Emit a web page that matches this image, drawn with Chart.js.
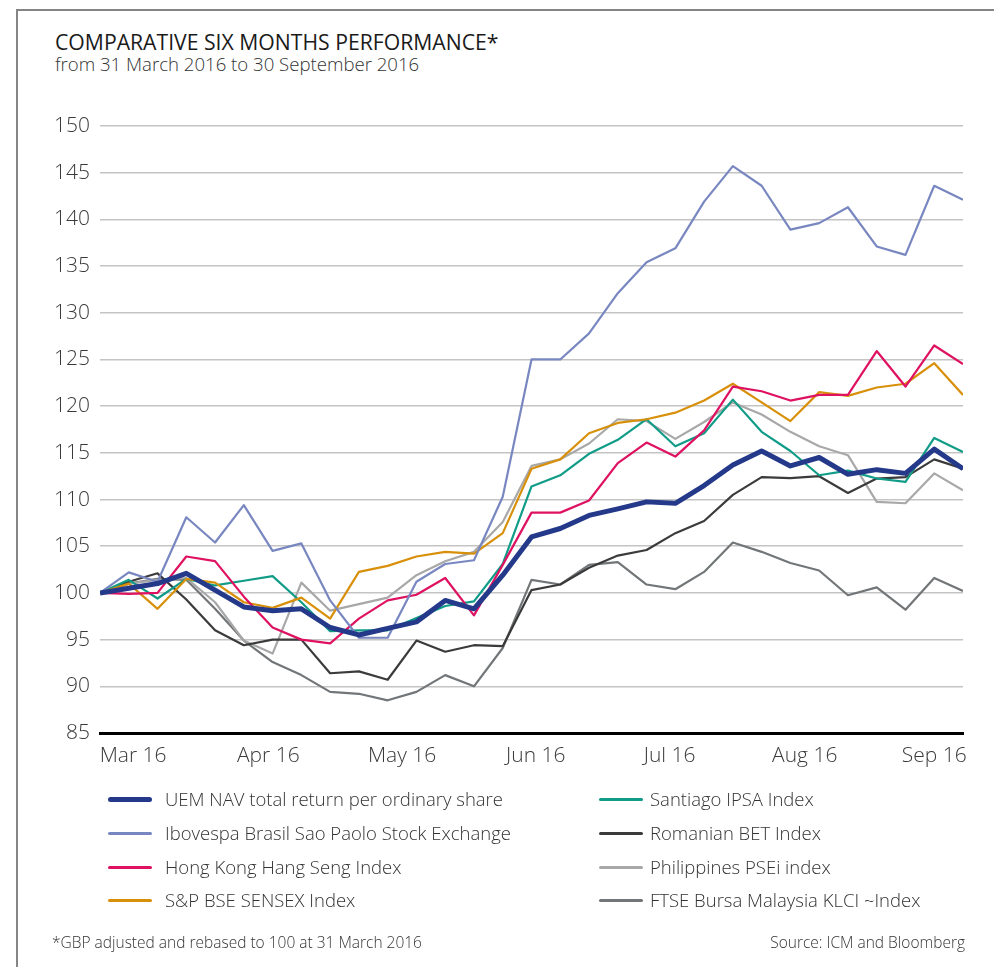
<!DOCTYPE html>
<html>
<head>
<meta charset="utf-8">
<script src="https://cdn.jsdelivr.net/npm/chart.js@4.4.1/dist/chart.umd.min.js"></script>
<style>
  html, body { margin: 0; padding: 0; background: #fff; }
  body { width: 994px; height: 967px; position: relative; overflow: hidden; font-family: "Open Sans", sans-serif; color: #222; }
  #frameTop { position: absolute; left: 17px; top: 9px; width: 977px; height: 2px; background: #858585; }
  #frameLeft { position: absolute; left: 16px; top: 9px; width: 2px; height: 958px; background: #858585; }
  #title { position: absolute; left: 55px; top: 27px; font-size: 21.2px; font-weight: 400; color: #1a1a1a; white-space: nowrap; }
  #subtitle { position: absolute; left: 55px; top: 51px; font-size: 18.6px; font-weight: 300; color: #333; white-space: nowrap; }
  #chartBox { position: absolute; left: 20px; top: 90px; }
  #legend { position: absolute; left: 0; top: 0; width: 994px; height: 967px; pointer-events: none; }
  .item { position: absolute; white-space: nowrap; font-size: 18.5px; font-weight: 300; color: #333; }
  .swatch { position: absolute; left: 0; width: 44px; border-radius: 3px; }
  .note { position: absolute; top: 931px; font-size: 15.5px; font-weight: 300; color: #333; white-space: nowrap; }
</style>
</head>
<body>
<div id="frameTop"></div>
<div id="frameLeft"></div>
<div id="title">COMPARATIVE SIX MONTHS PERFORMANCE*</div>
<div id="subtitle">from 31 March 2016 to 30 September 2016</div>
<div id="chartBox"><canvas id="perfChart" width="974" height="688"></canvas></div>
<div id="legend"></div>
<div class="note" style="left:52px;">*GBP adjusted and rebased to 100 at 31 March 2016</div>
<div class="note" style="right:29px;">Source: ICM and Bloomberg</div>

<script>
// weekly observations, 31 March 2016 .. 30 September 2016 (rebased to 100)
var weeks = [];
for (var w = 0; w <= 30; w++) weeks[w] = w;

var monthLabels = ["Mar 16", "Apr 16", "May 16", "Jun 16", "Jul 16", "Aug 16", "Sep 16"];
var monthTickAt = [1.15, 5.85, 10.5, 15.15, 19.8, 24.5, 29.0];
var yTicks = [85, 90, 95, 100, 105, 110, 115, 120, 125, 130, 135, 140, 145, 150];

var uemNav   = [100, 100.5, 101.0, 102.1, 100.3, 98.5, 98.1, 98.3, 96.3, 95.5, 96.2, 96.9, 99.2, 98.3, 101.9, 106.0, 106.9, 108.3, 109.0, 109.75, 109.6, 111.5, 113.7, 115.2, 113.6, 114.5, 112.7, 113.2, 112.8, 115.4, 113.3];
var ibovespa = [100, 102.2, 101.2, 108.1, 105.4, 109.4, 104.5, 105.3, 99.2, 95.2, 95.2, 101.2, 103.1, 103.5, 110.3, 125.0, 125.0, 127.8, 132.1, 135.4, 136.9, 141.9, 145.7, 143.6, 138.9, 139.6, 141.3, 137.1, 136.2, 143.6, 142.1];
var hangSeng = [100, 99.9, 100.0, 103.9, 103.4, 99.6, 96.3, 95.0, 94.6, 97.25, 99.2, 99.8, 101.6, 97.6, 103.0, 108.6, 108.6, 109.9, 113.9, 116.1, 114.6, 117.4, 122.1, 121.6, 120.6, 121.2, 121.2, 125.9, 122.1, 126.5, 124.5];
var sensex   = [100, 101.0, 98.3, 101.5, 101.1, 99.0, 98.4, 99.5, 97.25, 102.25, 102.9, 103.9, 104.4, 104.2, 106.4, 113.3, 114.3, 117.1, 118.2, 118.6, 119.3, 120.6, 122.4, 120.4, 118.4, 121.5, 121.1, 122.0, 122.4, 124.6, 121.2];
var ipsa     = [100, 101.4, 99.4, 101.5, 100.8, 101.3, 101.8, 99.0, 95.9, 96.0, 96.0, 97.3, 98.6, 99.1, 103.1, 111.4, 112.6, 114.9, 116.4, 118.6, 115.7, 117.1, 120.7, 117.25, 115.2, 112.6, 113.1, 112.25, 111.9, 116.6, 115.1];
var bet      = [100, 101.2, 102.1, 99.3, 96.0, 94.4, 95.0, 95.0, 91.4, 91.6, 90.7, 94.9, 93.7, 94.4, 94.3, 100.3, 100.9, 102.7, 104.0, 104.6, 106.4, 107.7, 110.5, 112.4, 112.3, 112.5, 110.7, 112.25, 112.4, 114.3, 113.3];
var psei     = [100, 101.0, 101.4, 101.6, 99.0, 94.9, 93.5, 101.1, 98.1, 98.8, 99.5, 101.9, 103.4, 104.4, 107.6, 113.6, 114.3, 116.0, 118.6, 118.4, 116.5, 118.3, 120.4, 119.1, 117.25, 115.7, 114.75, 109.75, 109.6, 112.8, 111.0];
var klci     = [100, 101.0, 101.5, 101.4, 98.3, 94.9, 92.6, 91.2, 89.4, 89.2, 88.5, 89.4, 91.2, 90.0, 94.1, 101.4, 100.9, 103.0, 103.3, 100.9, 100.4, 102.25, 105.4, 104.4, 103.2, 102.4, 99.75, 100.6, 98.2, 101.6, 100.2];

var series = [
  { label: "UEM NAV total return per ordinary share", data: uemNav, color: "#24398a", width: 5 },
  { label: "Ibovespa Brasil Sao Paolo Stock Exchange", data: ibovespa, color: "#7987c1", width: 2.2 },
  { label: "Hong Kong Hang Seng Index", data: hangSeng, color: "#df1161", width: 2.2 },
  { label: "S&P BSE SENSEX Index", data: sensex, color: "#d8900b", width: 2.2 },
  { label: "Santiago IPSA Index", data: ipsa, color: "#119c88", width: 2.2 },
  { label: "Romanian BET Index", data: bet, color: "#3b3b3b", width: 2.2 },
  { label: "Philippines PSEi index", data: psei, color: "#a8a8a8", width: 2.2 },
  { label: "FTSE Bursa Malaysia KLCI ~Index", data: klci, color: "#727678", width: 2.2 }
];

var datasets = series.map(function (s) {
  return {
    label: s.label,
    data: s.data,
    borderColor: s.color,
    backgroundColor: s.color,
    borderWidth: s.width,
    pointRadius: 0,
    lineTension: 0,
    borderJoinStyle: "round",
    fill: false
  };
});

var canvas = document.getElementById("perfChart");
var perfChart = new Chart(canvas, {
  type: "line",
  data: { labels: weeks, datasets: datasets },
  options: {
    responsive: false,
    animation: false,
    layout: { padding: { left: 0, right: 31, top: 36, bottom: 0 } },
    plugins: { legend: { display: false }, tooltip: { enabled: false } },
    scales: {
      x: {
        type: "linear",
        min: 0,
        max: 30,
        afterBuildTicks: function (scale) {
          scale.ticks = monthTickAt.map(function (v) { return { value: v }; });
        },
        afterFit: function (scale) { scale.height = 45; scale.paddingLeft = 0; scale.paddingRight = 0; },
        grid: { display: false, drawTicks: false },
        border: { display: true, color: "#000", width: 3 },
        ticks: {
          autoSkip: false,
          maxRotation: 0,
          padding: 10,
          color: "#3a3a3a",
          font: { family: "Open Sans", size: 21, weight: 300 },
          callback: function (v, i) { return monthLabels[i]; }
        }
      },
      y: {
        min: 85,
        max: 150,
        afterBuildTicks: function (scale) {
          scale.ticks = yTicks.map(function (v) { return { value: v }; });
        },
        afterFit: function (scale) { scale.width = 80; scale.paddingTop = 0; scale.paddingBottom = 0; },
        grid: { color: "#c4c4c4", lineWidth: 1.5, drawTicks: false },
        border: { display: false },
        ticks: {
          padding: 10,
          color: "#3a3a3a",
          font: { family: "Open Sans", size: 21, weight: 300 }
        }
      }
    }
  }
});

// two-column legend, built from the datasets
var legend = document.getElementById("legend");
var colX = [108, 599];
var rowY = [786, 820, 854, 887];
series.forEach(function (s, i) {
  var col = i < 4 ? 0 : 1;
  var row = i % 4;
  var item = document.createElement("div");
  item.className = "item";
  item.style.left = colX[col] + "px";
  item.style.top = rowY[row] + "px";
  item.style.paddingLeft = (col === 0 ? 57 : 51) + "px";
  var sw = document.createElement("span");
  sw.className = "swatch";
  sw.style.background = s.color;
  sw.style.height = (s.width > 3 ? 5 : 3) + "px";
  sw.style.top = (s.width > 3 ? 11 : 12) + "px";
  item.appendChild(sw);
  item.appendChild(document.createTextNode(s.label));
  legend.appendChild(item);
});
</script>
</body>
</html>
